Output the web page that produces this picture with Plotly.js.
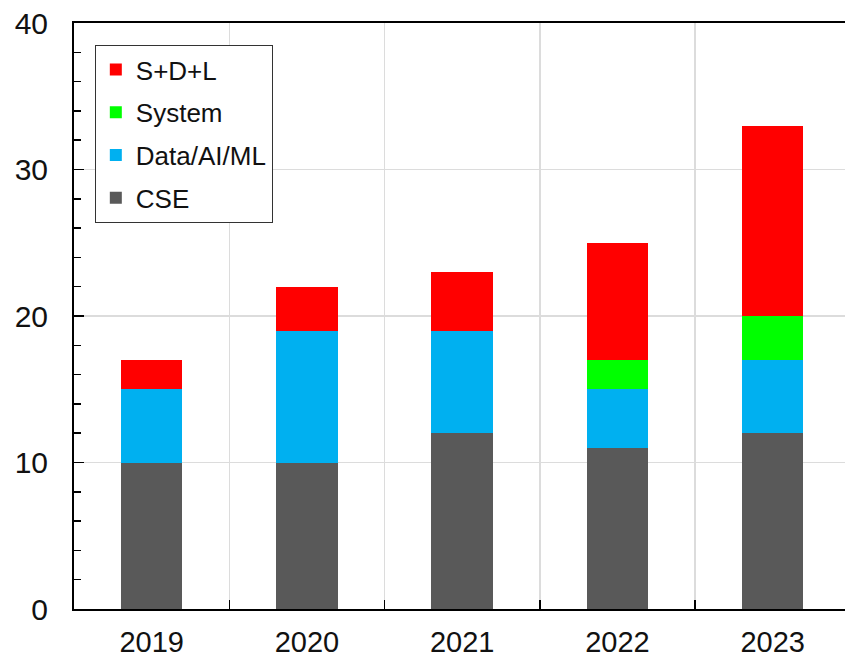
<!DOCTYPE html>
<html>
<head>
<meta charset="utf-8">
<script src="https://cdn.plot.ly/plotly-3.0.1.min.js"></script>
<style>html,body{margin:0;padding:0;background:#fff;}#chart{width:845px;height:659px;}</style>
</head>
<body>
<div id="chart"></div>
<script>
const years = ['2019', '2020', '2021', '2022', '2023'];
const cse = [10, 10, 12, 11, 12];
const dataAiMl = [5, 9, 7, 4, 5];
const system = [0, 0, 0, 2, 3];
const sdl = [2, 3, 4, 8, 13];
const seriesNames = ['CSE', 'Data/AI/ML', 'System', 'S+D+L'];
const seriesColors = ['#595959', '#00B0F0', '#00FF00', '#FF0000'];
const seriesValues = [cse, dataAiMl, system, sdl];

const traces = seriesValues.map((vals, i) => ({
  type: 'bar',
  x: years,
  y: vals,
  name: seriesNames[i],
  legendgroup: 'g' + i,
  legendrank: 1000 - i,
  width: 0.395,
  marker: {color: seriesColors[i], line: {width: 0}},
  hoverinfo: 'skip'
}));

const font = {family: 'Liberation Sans, Arial, sans-serif', color: '#111'};

const layout = {
  width: 845,
  height: 659,
  margin: {l: 74, r: 0, t: 23, b: 50},
  paper_bgcolor: '#fff',
  plot_bgcolor: '#fff',
  barmode: 'stack',
  showlegend: true,
  font: font,
  xaxis: {
    type: 'category',
    range: [-0.5, 4.466],
    tickson: 'boundaries',
    ticks: 'inside',
    ticklen: 9,
    tickwidth: 1.5,
    tickcolor: '#000',
    showgrid: true,
    gridcolor: '#dcdcdc',
    gridwidth: 1.5,
    showline: true,
    linecolor: '#000',
    linewidth: 2,
    mirror: true,
    tickfont: {size: 29, family: font.family, color: '#111'},
    ticklabelstandoff: 6,
    zeroline: false,
    fixedrange: true
  },
  xaxis2: {
    overlaying: 'x',
    type: 'linear',
    range: [-0.5, 4.466],
    tickvals: [0, 1, 2, 3, 4],
    ticks: 'inside',
    ticklen: 7,
    tickwidth: 1.5,
    tickcolor: '#000',
    showticklabels: false,
    showgrid: false,
    zeroline: false,
    showline: false,
    anchor: 'y'
  },
  yaxis: {
    range: [0, 40],
    dtick: 10,
    ticks: 'inside',
    ticklen: 10,
    tickwidth: 1.5,
    tickcolor: '#000',
    showgrid: true,
    gridcolor: '#dcdcdc',
    gridwidth: 1.5,
    showline: true,
    linecolor: '#000',
    linewidth: 2,
    zeroline: false,
    tickfont: {size: 30, family: font.family, color: '#111'},
    ticklabelstandoff: 18,
    minor: {dtick: 2, ticks: 'inside', ticklen: 7, tickwidth: 1.5, tickcolor: '#000', showgrid: false},
    fixedrange: true
  },
  legend: {
    x: 0.027,
    y: 0.9625,
    xanchor: 'left',
    yanchor: 'top',
    traceorder: 'grouped',
    tracegroupgap: 6,
    bgcolor: '#fff',
    bordercolor: '#333',
    borderwidth: 1,
    font: {size: 26, family: font.family, color: '#111'},
    itemwidth: 30
  }
};

Plotly.newPlot('chart', traces, layout, {displayModeBar: false, staticPlot: true});
</script>
</body>
</html>
